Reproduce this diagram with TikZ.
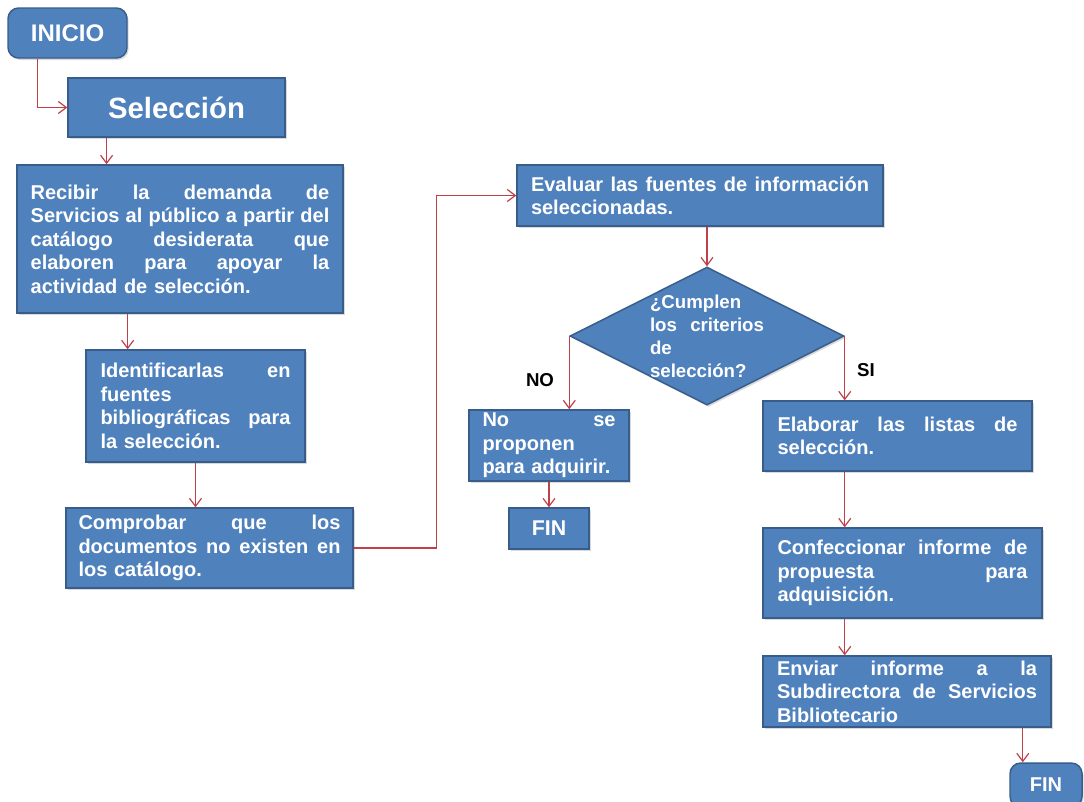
\documentclass[tikz,border=0pt]{standalone}
\usepackage{fontspec}
\setmainfont{Liberation Sans}
\usetikzlibrary{positioning, arrows.meta, calc, shapes.geometric, shadows}
\definecolor{azulcaja}{RGB}{79,129,189}
\definecolor{azulborde}{RGB}{56,93,138}
\definecolor{rojoflecha}{RGB}{192,64,72}
% una linea justificada a todo el ancho
\newcommand{\linea}[1]{\makebox[\linewidth][s]{\spaceskip=0pt\relax #1}\\}

\begin{document}
\begin{tikzpicture}[x=0.75pt, y=-0.75pt,
  caja/.style={draw=azulborde, line width=1.1pt, fill=azulcaja, text=white,
    font=\bfseries\fontsize{15}{17.6}\selectfont, align=left, inner sep=0pt,
    drop shadow={shadow xshift=1.2pt, shadow yshift=-1.5pt, opacity=0.3}},
  rombo/.style={caja, diamond, inner sep=-20pt, font=\bfseries\fontsize{14}{17.2}\selectfont},
  flecha/.style={draw=rojoflecha, line width=0.9pt, -{Straight Barb[length=6pt,width=9pt]}},
  etiqueta/.style={font=\bfseries\fontsize{14}{16}\selectfont, text=black}]
  \useasboundingbox (0,0) rectangle (1084,801);

  % columna izquierda
  \node[caja, rounded corners=8pt, minimum width=89.25pt, minimum height=37.5pt,
    font=\bfseries\fontsize{18}{20}\selectfont] (inicio) at (67.5,33) {INICIO};
  \node[caja, minimum width=162.75pt, minimum height=44.25pt,
    font=\bfseries\fontsize{22}{24}\selectfont] (sel) at (176.5,107.5) {Selección};
  \node[caja, minimum width=244.5pt, minimum height=111pt, text width=224pt] (rec) at (180,239)
    {\linea{Recibir la demanda de}\linea{Servicios al público a partir del}\linea{catálogo desiderata que}\linea{elaboren para apoyar la}actividad de selección.};
  \node[caja, minimum width=164.25pt, minimum height=84pt, text width=142.5pt] (ide) at (195.5,406)
    {\linea{Identificarlas en}fuentes\\\linea{bibliográficas para}la selección.};
  \node[caja, minimum width=215.25pt, minimum height=60pt, text width=196.5pt] (com) at (209.5,548)
    {\linea{Comprobar que los}\linea{documentos no existen en}los catálogo.};

  % evaluacion y decision
  \node[caja, minimum width=274.5pt, minimum height=45.75pt, text width=253.5pt] (eva) at (700,195.5)
    {\linea{Evaluar las fuentes de información}seleccionadas.};
  \node[rombo, minimum width=205.5pt, minimum height=103.5pt, text width=85.5pt] (dia) at (707,336)
    {¿Cumplen\\\linea{los criterios}de\\selección?};
  \node[etiqueta] (lno) at (540,380) {NO};
  \node[etiqueta] (lsi) at (866,370) {SI};

  % rama NO
  \node[caja, minimum width=120pt, minimum height=53.25pt, text width=99.75pt] (nop) at (549,445.5)
    {\linea{No se}proponen\\para adquirir.};
  \node[caja, minimum width=60pt, minimum height=30.75pt,
    font=\bfseries\fontsize{16}{18}\selectfont] (fin1) at (549,528.5) {FIN};

  % rama SI
  \node[caja, minimum width=201.75pt, minimum height=52.5pt, text width=180pt] (ela) at (897.5,436)
    {\linea{Elaborar las listas de}selección.};
  \node[caja, minimum width=209.25pt, minimum height=67.5pt, text width=187.5pt] (con) at (902.5,573)
    {\linea{Confeccionar informe de}\linea{propuesta para}adquisición.};
  \node[caja, minimum width=216pt, minimum height=53.25pt, text width=195pt] (env) at (907,691.5)
    {\linea{Enviar informe a la}\linea{Subdirectora de Servicios}Bibliotecario};
  \node[caja, rounded corners=8pt, minimum width=54pt, minimum height=33pt,
    font=\bfseries\fontsize{15}{17}\selectfont] (fin2) at (1046,785) {FIN};

  % conectores
  \draw[flecha] ($(inicio.south west)!0.25!(inicio.south east)$) |- (sel.west);
  \draw[flecha] ($(sel.south west)!0.18!(sel.south east)$) coordinate (s1) -- (s1 |- rec.north);
  \draw[flecha] ($(rec.south west)!0.34!(rec.south east)$) coordinate (r1) -- (r1 |- ide.north);
  \draw[flecha] (ide.south) -- (ide.south |- com.north);
  \draw[flecha] (com.east) -- ++(83,0) |- (eva.west);
  \draw[flecha] (dia.north |- eva.south) -- (dia.north);
  \draw[flecha] (dia.west) -- (dia.west |- nop.north);
  \draw[flecha] (nop.south) -- (fin1.north);
  \draw[flecha] (dia.east) -- (dia.east |- ela.north);
  \draw[flecha] (dia.east |- ela.south) -- (dia.east |- con.north);
  \draw[flecha] (dia.east |- con.south) -- (dia.east |- env.north);
  \draw[flecha] ($(env.south west)!0.9!(env.south east)$) coordinate (e1) -- (e1 |- fin2.north);
\end{tikzpicture}
\end{document}
